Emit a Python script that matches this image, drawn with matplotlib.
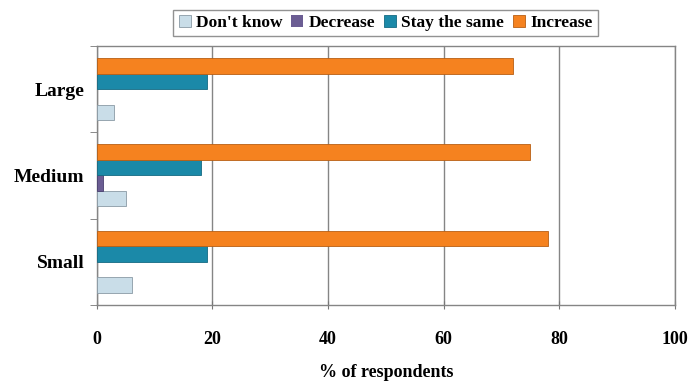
import numpy as np
import matplotlib as mpl
mpl.use('Agg')
from matplotlib import pyplot as plt

# Share of respondents by firm size
sizes = ['Small', 'Medium', 'Large']
series = ["Don't know", 'Decrease', 'Stay the same', 'Increase']
dont_know = [6, 5, 3]
decrease = [0, 1, 0]
stay_same = [19, 18, 19]
increase = [78, 75, 72]
colors = ['#c9dde8', '#6b5d93', '#1b89a8', '#f5821f']
edges = ['#8a9aa5', '#4a4070', '#146a82', '#b85f14']

font = 'Liberation Serif'

fig = plt.figure(figsize=(6.92, 3.83), dpi=100)
ax = fig.add_axes([0.140, 0.204, 0.835, 0.676])

y = np.arange(len(sizes))
h = 0.18
values = [dont_know, decrease, stay_same, increase]
offsets = [-1.5 * h, -0.5 * h, 0.5 * h, 1.5 * h]
for vals, off, c, ec, name in zip(values, offsets, colors, edges, series):
    # no outline on empty bars, otherwise a stray line shows at zero
    lw = [0.6 if v > 0 else 0 for v in vals]
    ax.barh(y + off, vals, height=h, color=c, edgecolor=ec, linewidth=lw,
            label=name, zorder=3)

ax.set_xlim(0, 100)
ax.set_ylim(-0.5, 2.5)
ax.set_xticks([0, 20, 40, 60, 80, 100])
ax.xaxis.grid(True, color='#858585', linewidth=1.0, zorder=0)

# category labels centred, tick marks on the boundaries
ax.set_yticks(y)
ax.set_yticklabels(sizes, fontsize=14, fontweight='bold', fontfamily=font)
ax.set_yticks([-0.5, 0.5, 1.5, 2.5], minor=True)
ax.tick_params(axis='y', which='major', length=0, pad=9)
ax.tick_params(axis='y', which='minor', length=5, color='#777777', direction='out')
ax.tick_params(axis='x', length=6, color='#777777', direction='inout', pad=16)
for lab in ax.get_xticklabels():
    lab.set_fontfamily(font)
    lab.set_fontsize(13)
    lab.set_fontweight('bold')

for s in ax.spines.values():
    s.set_color('#858585')
    s.set_linewidth(1.0)

ax.set_xlabel('% of respondents', fontsize=13, fontweight='bold',
              fontfamily=font, labelpad=11)

handles, labels = ax.get_legend_handles_labels()
leg = fig.legend(handles, labels, loc='center', bbox_to_anchor=(0.557, 0.94),
                 ncol=4, frameon=True, fancybox=False, handlelength=0.7,
                 handleheight=0.7, handletextpad=0.3, columnspacing=0.5,
                 borderpad=0.3, prop={'family': font, 'size': 12.5, 'weight': 'bold'})
leg.get_frame().set_edgecolor('#777777')
leg.get_frame().set_linewidth(1.0)

plt.savefig('out.png', dpi=100)
